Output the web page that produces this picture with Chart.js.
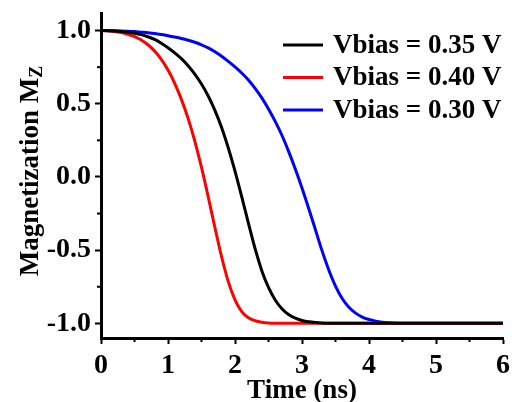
<!DOCTYPE html>
<html>
<head>
<meta charset="utf-8">
<script src="https://cdn.jsdelivr.net/npm/chart.js@4/dist/chart.umd.min.js"></script>
<style>
  html, body { margin: 0; padding: 0; background: #fff; }
  #wrap { width: 512px; height: 402px; }
</style>
</head>
<body>
<div id="wrap"><canvas id="magChart" width="512" height="402"></canvas></div>
<script>
// time axis (ns)
const time = [0, 0.1, 0.2, 0.3, 0.4, 0.5, 0.6, 0.7, 0.8, 0.9,
  1.0, 1.1, 1.2, 1.3, 1.4, 1.5, 1.6, 1.7, 1.8, 1.9,
  2.0, 2.1, 2.2, 2.3, 2.4, 2.5, 2.6, 2.7, 2.8, 2.9,
  3.0, 3.1, 3.2, 3.3, 3.4, 3.5, 3.6, 3.7, 3.8, 3.9,
  4.0, 4.1, 4.2, 4.3, 4.4, 4.5, 5.0, 5.5, 6.0];

const mz035 = [1.0, 0.999, 0.997, 0.994, 0.989, 0.982, 0.972, 0.958, 0.94, 0.914,
  0.883, 0.848, 0.808, 0.76, 0.703, 0.635, 0.553, 0.455, 0.338, 0.198,
  0.04, -0.135, -0.315, -0.49, -0.64, -0.755, -0.84, -0.90, -0.94, -0.965,
  -0.98, -0.989, -0.994, -0.997, -0.999, -1.0, -1.0, -1.0, -1.0, -1.0,
  -1.0, -1.0, -1.0, -1.0, -1.0, -1.0, -1.0, -1.0, -1.0];

const mz040 = [1.0, 0.998, 0.994, 0.986, 0.974, 0.958, 0.935, 0.903, 0.86, 0.803,
  0.73, 0.64, 0.53, 0.40, 0.245, 0.065, -0.135, -0.345, -0.545, -0.715,
  -0.84, -0.92, -0.962, -0.982, -0.992, -0.997, -0.999, -1.0, -1.0, -1.0,
  -1.0, -1.0, -1.0, -1.0, -1.0, -1.0, -1.0, -1.0, -1.0, -1.0,
  -1.0, -1.0, -1.0, -1.0, -1.0, -1.0, -1.0, -1.0, -1.0];

const mz030 = [1.0, 1.0, 0.999, 0.997, 0.995, 0.993, 0.989, 0.985, 0.98, 0.973,
  0.965, 0.956, 0.946, 0.934, 0.92, 0.903, 0.882, 0.855, 0.825, 0.79,
  0.752, 0.71, 0.662, 0.605, 0.54, 0.465, 0.38, 0.285, 0.175, 0.055,
  -0.075, -0.215, -0.36, -0.505, -0.635, -0.745, -0.83, -0.89, -0.93, -0.957,
  -0.974, -0.985, -0.992, -0.996, -0.998, -1.0, -1.0, -1.0, -1.0];

const seriesLabels = ['Vbias = 0.35 V', 'Vbias = 0.40 V', 'Vbias = 0.30 V'];
const seriesColors = ['#000000', '#ff0000', '#0000ff'];
const yTicks = [-1.0, -0.5, 0.0, 0.5, 1.0];
const xTicks = [0, 1, 2, 3, 4, 5, 6];

const FONT = '"Liberation Serif", "Times New Roman", serif';

function pts(ys) {
  return time.map((t, i) => ({ x: t, y: ys[i] }));
}

// minor ticks, y-title with subscript, legend inside plot
const extras = {
  id: 'extras',
  afterDraw(chart) {
    const c = chart.ctx;
    const xs = chart.scales.x, ys = chart.scales.y;
    const area = chart.chartArea;
    c.save();
    c.strokeStyle = '#000';
    c.lineWidth = 2;
    for (let v = 0.5; v < 6; v += 1) {
      const px = xs.getPixelForValue(v);
      c.beginPath(); c.moveTo(px, area.bottom); c.lineTo(px, area.bottom + 4); c.stroke();
    }
    for (let v = -0.75; v < 1.1; v += 0.5) {
      const py = ys.getPixelForValue(v);
      c.beginPath(); c.moveTo(area.left, py); c.lineTo(area.left - 4, py); c.stroke();
    }

    // y axis title
    c.translate(38, 171);
    c.rotate(-Math.PI / 2);
    c.fillStyle = '#000';
    c.textBaseline = 'alphabetic';
    const main = 'Magnetization M';
    c.font = 'bold 27px ' + FONT;
    const w1 = c.measureText(main).width;
    c.font = 'bold 18px ' + FONT;
    const w2 = c.measureText('Z').width;
    const start = -(w1 + w2) / 2;
    c.font = 'bold 27px ' + FONT;
    c.textAlign = 'left';
    c.fillText(main, start, 0);
    c.font = 'bold 18px ' + FONT;
    c.fillText('Z', start + w1, 4);
    c.restore();

    // legend
    c.save();
    c.font = 'bold 27px ' + FONT;
    c.textBaseline = 'middle';
    c.textAlign = 'left';
    chart.data.datasets.forEach((ds, i) => {
      const y = 45 + i * 32.5;
      c.strokeStyle = ds.borderColor;
      c.lineWidth = 3;
      c.beginPath(); c.moveTo(283, y); c.lineTo(323, y); c.stroke();
      c.fillStyle = '#000';
      c.fillText(ds.label, 333, y + 1);
    });
    c.restore();
  }
};

function noPad(s) {
  s.paddingTop = 0; s.paddingBottom = 0; s.paddingLeft = 0; s.paddingRight = 0;
}

const ctx = document.getElementById('magChart').getContext('2d');
const magChart = new Chart(ctx, {
  type: 'line',
  data: {
    datasets: [
      { label: seriesLabels[0], data: pts(mz035), borderColor: seriesColors[0] },
      { label: seriesLabels[1], data: pts(mz040), borderColor: seriesColors[1] },
      { label: seriesLabels[2], data: pts(mz030), borderColor: seriesColors[2] }
    ].map(d => Object.assign(d, { borderWidth: 3, pointRadius: 0, cubicInterpolationMode: 'monotone', fill: false }))
  },
  options: {
    responsive: false,
    animation: false,
    layout: { padding: { top: 13, right: 9, left: 0, bottom: 0 } },
    plugins: { legend: { display: false }, tooltip: { enabled: false } },
    scales: {
      x: {
        type: 'linear',
        min: 0, max: 6,
        afterBuildTicks: s => { s.ticks = xTicks.map(v => ({ value: v })); },
        afterFit: s => { s.height = 64; noPad(s); },
        border: { color: '#000', width: 3 },
        grid: { drawOnChartArea: false, tickLength: 6, tickWidth: 2, tickColor: '#000' },
        ticks: { color: '#000', padding: 5, maxRotation: 0, font: { family: FONT, size: 28, weight: 'bold' } },
        title: { display: true, text: 'Time (ns)', color: '#000', padding: { top: 0, bottom: -3 }, font: { family: FONT, size: 27, weight: 'bold', lineHeight: 1.0 } }
      },
      y: {
        type: 'linear',
        min: -1.1, max: 1.12,
        afterBuildTicks: s => { s.ticks = yTicks.map(v => ({ value: v })); },
        afterFit: s => { s.width = 101; noPad(s); },
        border: { color: '#000', width: 3 },
        grid: { drawOnChartArea: false, tickLength: 6, tickWidth: 2, tickColor: '#000' },
        ticks: { color: '#000', padding: 4, callback: v => v.toFixed(1), font: { family: FONT, size: 28, weight: 'bold' } }
      }
    }
  },
  plugins: [extras]
});
</script>
</body>
</html>
